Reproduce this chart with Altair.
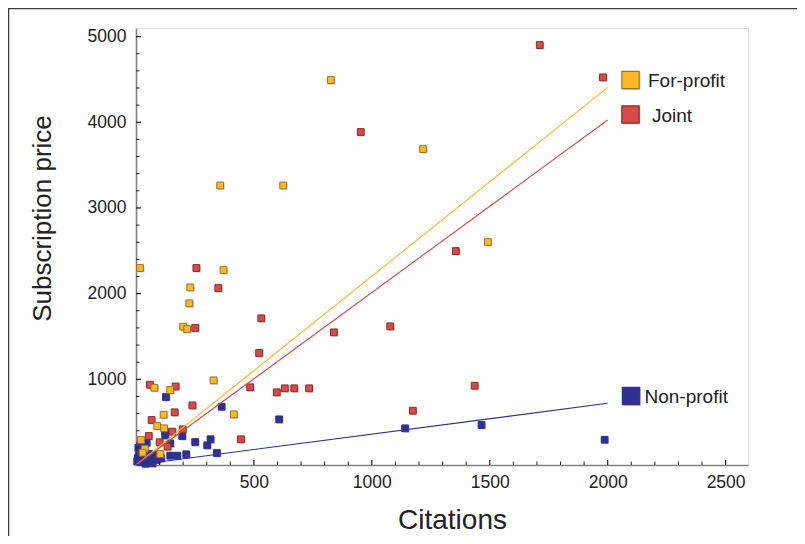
import altair as alt
import pandas as pd

# ---- data ----
groups = ["For-profit", "Joint", "Non-profit"]

fp_x = [17, 826, 357, 624, 1217, 1492, 371, 230, 226, 200, 217, 329, 415, 78, 145, 117, 90, 119, 21, 37, 28, 103]
fp_y = [2299, 4492, 3263, 3263, 3687, 2602, 2275, 2073, 1887, 1614, 1587, 988, 591, 902, 875, 587, 455, 428, 292, 190, 144, 128]

jt_x = [1712, 1980, 953, 1356, 256, 349, 531, 251, 522, 839, 1078, 1436, 1174, 484, 597, 631, 671, 734, 445, 239, 164, 59, 168, 66, 54, 154, 198, 100, 134]
jt_y = [4901, 4524, 3886, 2497, 2299, 2065, 1712, 1599, 1307, 1548, 1618, 925, 634, 907, 848, 895, 895, 895, 300, 696, 615, 937, 917, 525, 338, 389, 416, 265, 214]

np_x = [1987, 1465, 1141, 607, 363, 127, 196, 251, 316, 302, 343, 213, 175, 145, 145, 124, 123, 106, 17, 34, 51, 68, 8, 21, 80, 45, 24,
        5, 12, 30, 40, 55, 60, 10, 25, 70, 88]
np_y = [295, 467, 428, 533, 680, 793, 338, 268, 300, 230, 140, 125, 109, 109, 253, 346, 385, 78, 222, 152, 82, 35, 82, 35, 117, 260, 253,
        40, 110, 60, 15, 130, 45, 200, 170, 20, 60]

line_x0 = [0, 0, 0]
line_x1 = [2000, 2000, 2000]
line_y1 = [4407, 4026, 720]

x_major = [500, 1000, 1500, 2000, 2500]
x_minor = [100, 200, 300, 400, 600, 700, 800, 900, 1100, 1200, 1300, 1400,
           1600, 1700, 1800, 1900, 2100, 2200, 2300, 2400]
y_major = [1000, 2000, 3000, 4000, 5000]
y_minor = [200, 400, 600, 800, 1200, 1400, 1600, 1800, 2200, 2400, 2600, 2800,
           3200, 3400, 3600, 3800, 4200, 4400, 4600, 4800]

# ---- tables ----
pts = pd.concat([
    pd.DataFrame({"group": "Non-profit", "cit": np_x, "price": np_y, "ord": 0}),
    pd.DataFrame({"group": "Joint", "cit": jt_x, "price": jt_y, "ord": 1}),
    pd.DataFrame({"group": "For-profit", "cit": fp_x, "price": fp_y, "ord": 2}),
], ignore_index=True)

lines = pd.DataFrame({
    "group": groups * 2,
    "cit": line_x0 + line_x1,
    "price": [0, 0, 0] + line_y1,
})

W, H = 612, 437
FONT = "Liberation Sans"
fill_range = ["#FDB827", "#D64B47", "#2E3192"]
stroke_range = ["#9A7420", "#8E2A28", "#2E3192"]
line_range = ["#FDBA2C", "#DC5552", "#3A3D9A"]

xs = alt.Scale(domain=[0, 2595], nice=False, zero=True)
ys = alt.Scale(domain=[0, 5100], nice=False, zero=True)

xaxis = alt.Axis(values=x_major, format="d", ticks=False, tickSize=0, grid=False, labelPadding=8,
                 labelFontSize=17.5, labelFont=FONT, labelColor="#222",
                 domainColor="#808080", domainWidth=1.6,
                 title="Citations", titleFont=FONT, titleFontSize=28, titleFontWeight="normal",
                 titleColor="#222", titleX=316, titleY=63, titleBaseline="alphabetic",
                 titleAlign="center")
yaxis = alt.Axis(values=y_major, format="d", ticks=False, tickSize=0, grid=False, labelPadding=10,
                 labelFontSize=17.5, labelFont=FONT, labelColor="#222",
                 domainColor="#808080", domainWidth=1.6,
                 title="Subscription price", titleFont=FONT, titleFontSize=26,
                 titleFontWeight="normal", titleColor="#222", titleAngle=-90,
                 titleX=-86, titleY=190, titleBaseline="alphabetic", titleAlign="center")

one = pd.DataFrame({"a": [0]})

# frame (top and left edges of the figure box)
frame_top = alt.Chart(one).mark_rule(color="#3a3a3a", strokeWidth=1.5).encode(
    x=alt.value(-128), x2=alt.value(W + 49), y=alt.value(-19.5))
frame_left = alt.Chart(one).mark_rule(color="#3a3a3a", strokeWidth=1.5).encode(
    x=alt.value(-127.5), y=alt.value(-20), y2=alt.value(H + 71))

# shadow + points
shadow = alt.Chart(pts).mark_square(filled=True, size=46, color="#999", opacity=0.45,
                                    xOffset=1.2, yOffset=1.2).encode(
    x=alt.X("cit:Q", scale=xs, axis=xaxis),
    y=alt.Y("price:Q", scale=ys, axis=yaxis),
    order="ord:Q")

points = alt.Chart(pts).mark_square(filled=True, size=46, strokeWidth=1, opacity=1).encode(
    x=alt.X("cit:Q", scale=xs),
    y=alt.Y("price:Q", scale=ys),
    color=alt.Color("group:N", scale=alt.Scale(domain=groups, range=fill_range), legend=None),
    stroke=alt.Stroke("group:N", scale=alt.Scale(domain=groups, range=stroke_range), legend=None),
    order="ord:Q")

fit = alt.Chart(lines).mark_line(strokeWidth=1.1).encode(
    x=alt.X("cit:Q", scale=xs),
    y=alt.Y("price:Q", scale=ys),
    color=alt.Color("group:N", scale=alt.Scale(domain=groups, range=line_range), legend=None),
    detail="group:N")

# inside ticks
xt_major = alt.Chart(pd.DataFrame({"v": x_major})).mark_rule(color="#222", strokeWidth=1.2).encode(
    x=alt.X("v:Q", scale=xs), y=alt.value(H), y2=alt.value(H - 5))
xt_minor = alt.Chart(pd.DataFrame({"v": x_minor})).mark_rule(color="#222", strokeWidth=1).encode(
    x=alt.X("v:Q", scale=xs), y=alt.value(H), y2=alt.value(H - 3.5))
yt_major = alt.Chart(pd.DataFrame({"v": y_major})).mark_rule(color="#222", strokeWidth=1.2).encode(
    y=alt.Y("v:Q", scale=ys), x=alt.value(0), x2=alt.value(5))
yt_minor = alt.Chart(pd.DataFrame({"v": y_minor})).mark_rule(color="#222", strokeWidth=1).encode(
    y=alt.Y("v:Q", scale=ys), x=alt.value(0), x2=alt.value(3.5))

# legend drawn as marks
def leg(label, fill, stroke, sx, sy, tx):
    sh = alt.Chart(one).mark_square(filled=True, size=300, color="#999", opacity=0.45,
                                    xOffset=1.3, yOffset=1.3).encode(x=alt.value(sx), y=alt.value(sy))
    sq = alt.Chart(one).mark_square(filled=True, size=300, color=fill, stroke=stroke,
                                    strokeWidth=1.2, opacity=1).encode(x=alt.value(sx), y=alt.value(sy))
    tx_ = alt.Chart(one).mark_text(text=label, font=FONT, fontSize=19, color="#222",
                                   align="left", baseline="middle").encode(
        x=alt.value(tx), y=alt.value(sy + 1))
    return [sh, sq, tx_]

legend_layers = (leg(groups[0], fill_range[0], stroke_range[0], 494.5, 52, 512)
                 + leg(groups[1], fill_range[1], stroke_range[1], 494.5, 86.5, 516)
                 + leg(groups[2], fill_range[2], fill_range[2], 495, 368, 508.5))

chart = alt.layer(
    frame_top, frame_left, shadow, points, fit,
    xt_major, xt_minor, yt_major, yt_minor, *legend_layers
).properties(
    width=W, height=H,
    autosize=alt.AutoSizeParams(type="none"),
    padding={"left": 128, "top": 20, "right": 49, "bottom": 71},
).configure_view(stroke=None).configure(background="white")

chart.save("out.html", embed_options={"renderer": "svg", "actions": False})
